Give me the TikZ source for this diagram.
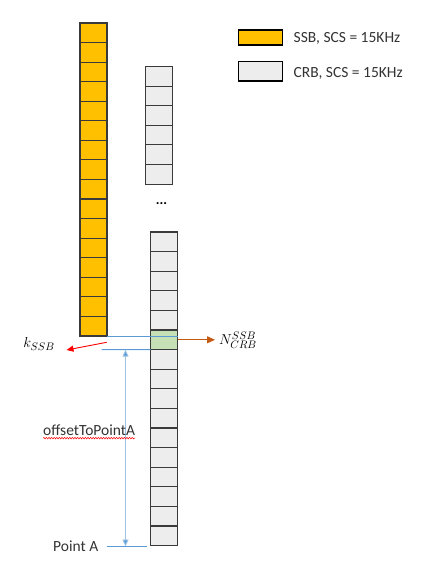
\documentclass[tikz,border=0pt]{standalone}
\usepackage{fontspec}
\setmainfont{Carlito}
\usetikzlibrary{arrows.meta,decorations.pathmorphing}
\definecolor{ssbY}{HTML}{FFC000}
\definecolor{crbG}{HTML}{EDEDED}
\definecolor{hiG}{HTML}{C5E0B4}
\definecolor{cellB}{HTML}{3A3A3A}
\definecolor{blueD}{HTML}{5B9BD5}
\definecolor{blueL}{HTML}{9DC3E6}
\definecolor{orgA}{HTML}{C55A11}
\begin{document}
\begin{tikzpicture}[x=1pt,y=-1pt,
  cell/.style={draw=cellB, line width=1.1pt, minimum width=27pt, minimum height=19.6pt, inner sep=0pt, outer sep=0pt, anchor=north west},
  legbox/.style={draw=black, line width=1.3pt, minimum width=44.4pt, inner sep=0pt, outer sep=0pt, anchor=north west},
  lbl/.style={font=\fontsize{15.5}{18}\selectfont, text=black!80, inner sep=0pt},
  bl/.style={draw=blueD, line width=0.9pt}]
\useasboundingbox (0,0) rectangle (438,568);
% SSB column
\foreach \i in {0,...,15} \node[cell, fill=ssbY] (s\i) at (80, 23+\i*19.56) {};
% upper CRB column
\foreach \i in {0,...,5} \node[cell, fill=crbG] (u\i) at (145.5, 66.5+\i*19.6) {};
\node[font=\bfseries\fontsize{14}{16}\selectfont] (dots) at (161.5,204) {...};
% lower CRB column
\foreach \i in {0,...,15} \node[cell, fill=crbG] (c\i) at (150.5, 232+\i*19.6) {};
\node[cell, fill=hiG] (c5) at (150.5, 232+5*19.6) {};
% legend
\node[legbox, fill=ssbY, minimum height=15pt] (ly) at (238.3,30) {};
\node[lbl, anchor=west] (lyt) at (293.5,38.5) {SSB, SCS = 15KHz};
\node[legbox, fill=crbG, minimum height=19.3pt] (lg) at (238.3,61.7) {};
\node[lbl, anchor=west] (lgt) at (293.5,73.5) {CRB, SCS = 15KHz};
% blue reference lines
\draw[bl] (s15.south east) -- (c5.east |- s15.south east);
\coordinate (b2) at (101.7, 349.6);
\draw[bl] (b2) -- (c5.south west);
\coordinate (pA) at (107, 546.5);
\coordinate (pAe) at (146.7, 546.5);
\draw[bl] (pA) -- (pAe);
\coordinate (vt) at (125.5, 349.6);
\coordinate (vb) at (125.5, 546.5);
\draw[draw=blueL, line width=0.9pt, {Triangle[length=7pt,width=6pt,fill=blueD]}-{Triangle[length=7pt,width=6pt,fill=blueD]}] (vt) -- (vb);
% labels
\node[font=\fontsize{15}{18}\selectfont, inner sep=0pt] (kssb) at (39,344) {$k_{SSB}$};
\coordinate (ra) at (106.7,342.3);
\coordinate (rb) at (66.5,350);
\draw[red, line width=0.9pt, -{Triangle[length=7pt,width=6pt]}] (ra) -- (rb);
\node[font=\fontsize{15}{18}\selectfont, inner sep=0pt, anchor=west] (ncrb) at (219,340) {$N^{SSB}_{CRB}$};
\draw[orgA, line width=0.9pt, -{Triangle[length=8pt,width=7pt]}, shorten >=4pt] (c5.east) -- (ncrb.west |- c5.east);
\node[lbl, anchor=west] (off) at (43,430) {offsetToPointA};
\draw[red, line width=0.5pt, decorate, decoration={snake, amplitude=0.8pt, segment length=2.6pt}] ([yshift=-2.5pt]off.south west) -- ([yshift=-2.5pt]off.south east);
\node[lbl, anchor=west] (pointA) at (53,546) {Point A};
\end{tikzpicture}
\end{document}
